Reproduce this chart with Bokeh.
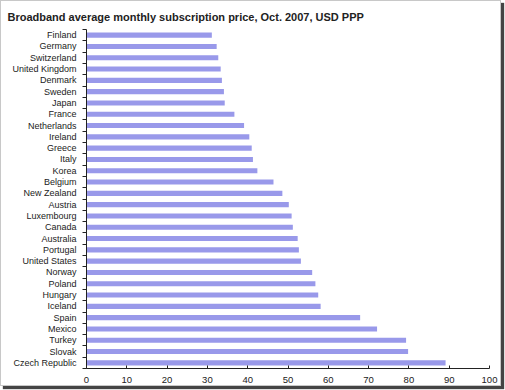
from bokeh.plotting import figure
from bokeh.models import Range1d, FixedTicker
from bokeh.embed import file_html
from bokeh.resources import INLINE

title_text = "Broadband average monthly subscription price, Oct. 2007, USD PPP"
countries = ["Finland", "Germany", "Switzerland", "United Kingdom", "Denmark", "Sweden",
             "Japan", "France", "Netherlands", "Ireland", "Greece", "Italy", "Korea",
             "Belgium", "New Zealand", "Austria", "Luxembourg", "Canada", "Australia",
             "Portugal", "United States", "Norway", "Poland", "Hungary", "Iceland",
             "Spain", "Mexico", "Turkey", "Slovak", "Czech Republic"]
prices = [31.1, 32.3, 32.7, 33.3, 33.6, 34.1, 34.3, 36.7, 39.1, 40.4, 41.0, 41.3, 42.4,
          46.4, 48.6, 50.2, 50.9, 51.2, 52.4, 52.7, 53.2, 56.0, 56.8, 57.5, 58.1,
          67.9, 72.1, 79.3, 79.8, 89.1]
x_ticks = [0, 10, 20, 30, 40, 50, 60, 70, 80, 90, 100]

n = len(countries)
ypos = [n - 1 - i for i in range(n)]

p = figure(width=501, height=386, output_backend="svg", toolbar_location=None,
           x_range=Range1d(0, 100), y_range=Range1d(-0.5, n - 0.5),
           min_border_left=85, min_border_right=13, min_border_top=27, min_border_bottom=19,
           title=title_text,
           styles={"border": "1px solid #c8c8c8", "box-shadow": "3px 3px 1px #444"})
p.title.text_font = "Liberation Sans"
p.title.text_font_size = "11px"
p.title.text_font_style = "bold"
p.title.text_color = "#222222"
p.title.offset = -79
p.title.standoff = 14
p.title.text_line_height = 0.8

p.hbar(y=ypos, right=prices, left=0, height=0.45, color="#9999ea", line_color=None)

p.outline_line_color = None
p.xgrid.visible = False
p.ygrid.visible = False

ax = p.yaxis[0]
ax.ticker = FixedTicker(ticks=ypos, minor_ticks=[v - 0.5 for v in range(n + 1)])
ax.major_label_overrides = {y: c for y, c in zip(ypos, countries)}
ax.major_tick_out = 0
ax.major_tick_in = 0
ax.minor_tick_out = 4
ax.minor_tick_in = 0
ax.major_label_standoff = 6
ax.major_label_text_font = "Liberation Sans"
ax.major_label_text_font_size = "9px"
ax.major_label_text_color = "#222222"
ax.axis_line_color = "#222222"
ax.minor_tick_line_color = "#222222"

bx = p.xaxis[0]
bx.ticker = FixedTicker(ticks=x_ticks)
bx.minor_tick_line_color = None
bx.major_tick_in = 3
bx.major_tick_out = 0
bx.major_label_standoff = 8
bx.major_label_text_font = "Liberation Sans"
bx.major_label_text_font_size = "9.5px"
bx.major_label_text_color = "#222222"
bx.axis_line_color = "#222222"
bx.major_tick_line_color = "#222222"

open("out.html", "w").write(file_html(p, INLINE))
